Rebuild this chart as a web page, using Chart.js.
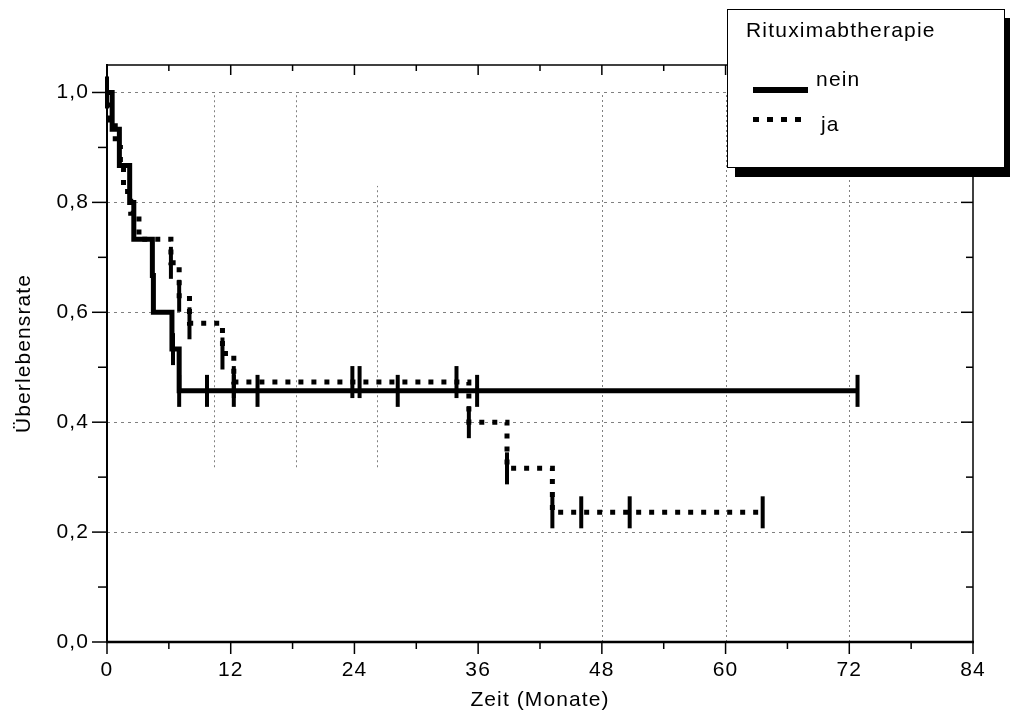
<!DOCTYPE html>
<html>
<head>
<meta charset="utf-8">
<script src="https://cdn.jsdelivr.net/npm/chart.js@4/dist/chart.umd.min.js"></script>
<style>
  html, body { margin: 0; padding: 0; background: #fff; }
  #wrap { position: relative; width: 1010px; height: 715px; overflow: hidden; }
  #legend {
    position: absolute; left: 727px; top: 9px; width: 276px; height: 157px;
    border: 1.5px solid #000; background: #fff; box-shadow: 8px 9px 0 #000;
    font-family: "Liberation Sans", Arial, sans-serif; font-size: 21px; line-height: 21px;
    letter-spacing: 1.2px; color: #000;
  }
  #legend .t { position: absolute; white-space: nowrap; }
  #legend .solid { position: absolute; left: 25px; top: 77px; width: 55px; height: 6px; background: #000; }
  #legend .dotted { position: absolute; left: 25px; top: 107px; width: 56px; height: 5px;
    background: repeating-linear-gradient(to right, #000 0 6px, transparent 6px 14px); }
</style>
</head>
<body>
<div id="wrap">
  <canvas id="c" width="1010" height="715"></canvas>
  <div id="legend">
    <div class="t" style="left:18px; top:9px;">Rituximabtherapie</div>
    <div class="solid"></div>
    <div class="t" style="left:88px; top:58px;">nein</div>
    <div class="dotted"></div>
    <div class="t" style="left:93px; top:103px;">ja</div>
  </div>
</div>
<script>
// ---- Data ----
const neinTimes = [0, 0.5, 1.2, 2.2, 2.6, 4.4, 4.5, 6.3, 7.0, 72.8];
const neinSurv  = [1.0, 0.933, 0.867, 0.8, 0.733, 0.667, 0.6, 0.533, 0.457, 0.457];
const neinCensorTimes = [0, 6.4, 7.0, 9.7, 12.3, 14.6, 28.2, 35.9, 72.8];
const neinCensorSurv  = [1.0, 0.533, 0.457, 0.457, 0.457, 0.457, 0.457, 0.457, 0.457];

const jaTimes = [0, 0.3, 0.8, 1.3, 1.6, 2.3, 3.1, 6.2, 7.0, 8.0, 11.2, 12.3, 35.1, 38.8, 43.2, 63.6];
const jaSurv  = [1.0, 0.95, 0.9, 0.86, 0.82, 0.78, 0.733, 0.69, 0.63, 0.58, 0.525, 0.473, 0.40, 0.316, 0.236, 0.236];
const jaCensorTimes = [6.2, 7.0, 8.0, 11.2, 12.3, 23.8, 24.5, 33.9, 35.1, 38.8, 43.2, 46.0, 50.7, 63.6];
const jaCensorSurv  = [0.69, 0.63, 0.58, 0.525, 0.473, 0.473, 0.473, 0.473, 0.40, 0.316, 0.236, 0.236, 0.236, 0.236];

const xTickValues = [0, 12, 24, 36, 48, 60, 72, 84];
const xTickLabels = ['0', '12', '24', '36', '48', '60', '72', '84'];
const xMinorTicks = [6, 18, 30, 42, 54, 66, 78];
const yTickValues = [0, 0.2, 0.4, 0.6, 0.8, 1.0];
const yTickLabels = ['0,0', '0,2', '0,4', '0,6', '0,8', '1,0'];
const yMinorTicks = [0.1, 0.3, 0.5, 0.7, 0.9];
const yGridValues = [0.2, 0.4, 0.6, 0.8, 1.0];
// vertical dotted grid segments (month, from, to)
const vGridMonths = [10.4, 18.3, 26.2, 48, 60, 72];
const vGridFrom   = [0.318, 0.318, 0.318, 0, 0, 0];
const vGridTo     = [1.0, 1.0, 0.83, 1.0, 1.0, 1.0];

const FONT = "'Liberation Sans', Arial, sans-serif";
const FONT_SIZE = 21;
const LETTER_SPACING = '1.1px';
const GRID_COLOR = '#808080';

const toXY = (xs, ys) => xs.map((x, i) => ({ x: x, y: ys[i] }));

const framePlugin = {
  id: 'frame',
  beforeDraw(chart) { chart.ctx.letterSpacing = LETTER_SPACING; },
  beforeDatasetsDraw(chart) {
    const { ctx, chartArea: a, scales: { x, y } } = chart;
    ctx.save();
    ctx.strokeStyle = GRID_COLOR;
    ctx.lineWidth = 1;
    ctx.setLineDash([3, 4]);
    yGridValues.forEach(v => {
      const py = Math.round(y.getPixelForValue(v)) + 0.5;
      ctx.beginPath(); ctx.moveTo(a.left, py); ctx.lineTo(a.right, py); ctx.stroke();
    });
    ctx.setLineDash([2, 3]);
    vGridMonths.forEach((m, i) => {
      const px = Math.round(x.getPixelForValue(m)) + 0.5;
      ctx.beginPath();
      ctx.moveTo(px, y.getPixelForValue(vGridFrom[i]));
      ctx.lineTo(px, y.getPixelForValue(vGridTo[i]));
      ctx.stroke();
    });
    ctx.restore();
  },
  afterDatasetsDraw(chart) {
    const { ctx, chartArea: a, scales: { x, y } } = chart;
    ctx.save();
    ctx.strokeStyle = '#000';
    ctx.setLineDash([]);
    const line = (x1, y1, x2, y2, w) => {
      ctx.lineWidth = w; ctx.beginPath(); ctx.moveTo(x1, y1); ctx.lineTo(x2, y2); ctx.stroke();
    };
    // frame
    line(a.left, a.top, a.right, a.top, 1.5);
    line(a.right, a.top, a.right, a.bottom, 1.5);
    line(a.left, a.top - 1, a.left, a.bottom + 1, 2);
    line(a.left - 1, a.bottom, a.right + 1, a.bottom, 2.5);
    // y ticks: left outward, right inward
    yTickValues.forEach(v => {
      const py = y.getPixelForValue(v);
      line(a.left - 15, py, a.left, py, 1.5);
      line(a.right - 12, py, a.right, py, 1.5);
    });
    yMinorTicks.forEach(v => {
      const py = y.getPixelForValue(v);
      line(a.left - 9, py, a.left, py, 1.5);
      line(a.right - 7, py, a.right, py, 1.5);
    });
    // x ticks: bottom outward, top inward
    xTickValues.forEach(v => {
      const px = x.getPixelForValue(v);
      line(px, a.bottom, px, a.bottom + 12, 1.5);
      line(px, a.top, px, a.top + 10, 1.5);
    });
    xMinorTicks.forEach(v => {
      const px = x.getPixelForValue(v);
      line(px, a.bottom, px, a.bottom + 7, 1.5);
      line(px, a.top, px, a.top + 6, 1.5);
    });
    ctx.restore();
  }
};

const censorStyle = {
  showLine: false, pointStyle: 'line', pointRotation: 90, pointRadius: 16,
  pointBorderWidth: 4, pointBorderColor: '#000', pointBackgroundColor: '#000',
  borderColor: '#000', pointHoverRadius: 16, clip: false
};

new Chart(document.getElementById('c'), {
  type: 'line',
  data: {
    datasets: [
      { label: 'nein', data: toXY(neinTimes, neinSurv), stepped: 'before',
        borderColor: '#000', borderWidth: 5, pointRadius: 0, fill: false, borderCapStyle: 'butt', clip: false },
      { label: 'ja', data: toXY(jaTimes, jaSurv), stepped: 'before',
        borderColor: '#000', borderWidth: 5, borderDash: [5, 8], pointRadius: 0, fill: false, borderCapStyle: 'butt', clip: false },
      Object.assign({ label: 'nein zensiert', data: toXY(neinCensorTimes, neinCensorSurv) }, censorStyle),
      Object.assign({ label: 'ja zensiert', data: toXY(jaCensorTimes, jaCensorSurv) }, censorStyle)
    ]
  },
  options: {
    responsive: false,
    animation: false,
    events: [],
    layout: { padding: { top: 65, right: 37, left: 0, bottom: 0 } },
    plugins: { legend: { display: false }, tooltip: { enabled: false } },
    scales: {
      x: {
        type: 'linear', min: 0, max: 84,
        afterFit(s) { s.height = 73; },
        afterBuildTicks(s) { s.ticks = xTickValues.map(v => ({ value: v })); },
        ticks: { callback: (v, i) => xTickLabels[i], autoSkip: false, maxRotation: 0, padding: 16,
          color: '#000', font: { family: FONT, size: FONT_SIZE } },
        grid: { display: false, drawTicks: false },
        border: { display: false },
        title: { display: true, text: 'Zeit (Monate)', color: '#000',
          font: { family: FONT, size: FONT_SIZE }, padding: { top: 0, bottom: 2 } }
      },
      y: {
        type: 'linear', min: 0, max: 1.05,
        afterFit(s) { s.width = 107; },
        afterBuildTicks(s) { s.ticks = yTickValues.map(v => ({ value: v })); },
        ticks: { callback: (v, i) => yTickLabels[i], autoSkip: false, padding: 18,
          color: '#000', font: { family: FONT, size: FONT_SIZE } },
        grid: { display: false, drawTicks: false },
        border: { display: false },
        title: { display: true, text: 'Überlebensrate', color: '#000',
          font: { family: FONT, size: FONT_SIZE }, padding: { top: 12, bottom: 0 } }
      }
    }
  },
  plugins: [framePlugin]
});
</script>
</body>
</html>
